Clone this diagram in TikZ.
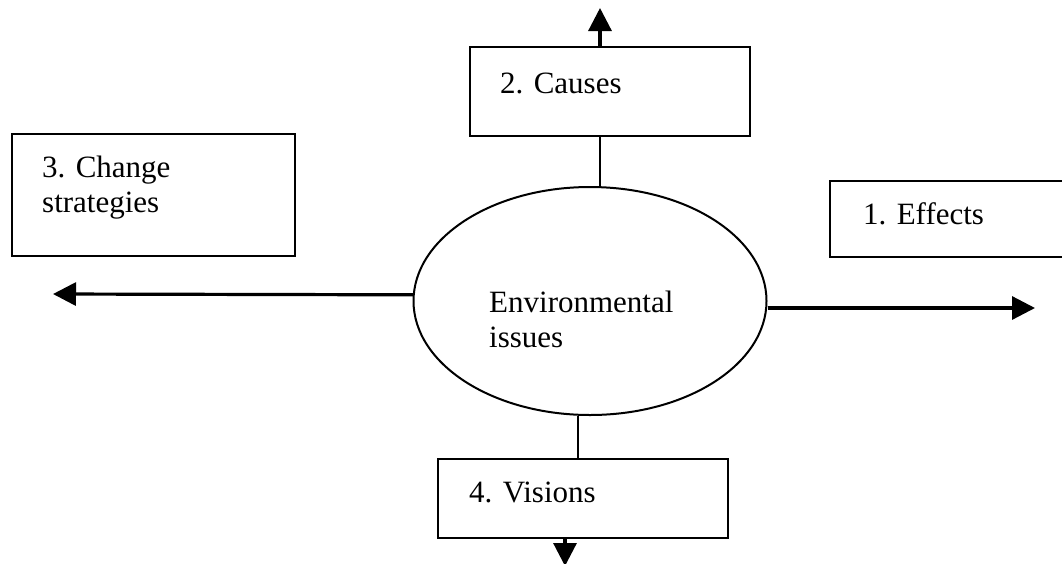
\documentclass[tikz,border=0pt]{standalone}
\usepackage{fontspec}
\setmainfont{Liberation Serif}
\usetikzlibrary{arrows.meta,shapes.geometric}
\begin{document}
\begin{tikzpicture}[x=1pt,y=-1pt,
  box/.style={draw,line width=2.4pt,inner sep=0pt,rectangle},
  txt/.style={font=\fontsize{31}{35}\selectfont,inner sep=0pt,anchor=base west,align=left},
  conn/.style={line width=2pt},
  arr/.style={line width=3.2pt,-{Triangle[length=23pt,width=23pt]}}]
\useasboundingbox (0,0) rectangle (1062,563);
\clip (0,0) rectangle (1062,563);
\fill[white] (0,0) rectangle (1062,563);
% ellipse
\node[ellipse,draw,line width=2pt,inner sep=0pt,minimum width=353pt,minimum height=228pt] (ell) at (590,301) {};
\node[txt] (elltxt) at (489,347) {Environmental\\issues};
% boxes
\node[box,minimum width=280pt,minimum height=89pt] (causes) at (610,91.5) {};
\node[txt] (causestxt) at (500,93) {2. Causes};
\node[box,minimum width=283pt,minimum height=122pt] (strat) at (153.5,195) {};
\node[txt] (strattxt) at (42,212) {3. Change\\strategies};
\node[box,minimum width=245pt,minimum height=76pt] (effects) at (952.5,219) {};
\node[txt] (effectstxt) at (863,224) {1. Effects};
\node[box,minimum width=290pt,minimum height=79pt] (visions) at (583,498.5) {};
\node[txt] (visionstxt) at (469,502) {4. Visions};
% coordinates
\coordinate (topend) at (600,8);
\coordinate (leftend) at (53,294);
\coordinate (rightend) at (1035,308);
\coordinate (botend) at (565,566);
\coordinate (topx) at (600,0);
\coordinate (botx) at (578,0);
% connectors
\draw[conn] (ell.north -| topx) -- (causes.south -| topx);
\draw[arr] (causes.north -| topx) -- (topend);
\draw[conn] (ell.south -| botx) -- (visions.north -| botx);
\draw[arr] (visions.south -| botend) -- (botend);
\draw[arr] (ell.178) -- (leftend);
\draw[arr] (ell.east |- rightend) -- (rightend);
\end{tikzpicture}
\end{document}
